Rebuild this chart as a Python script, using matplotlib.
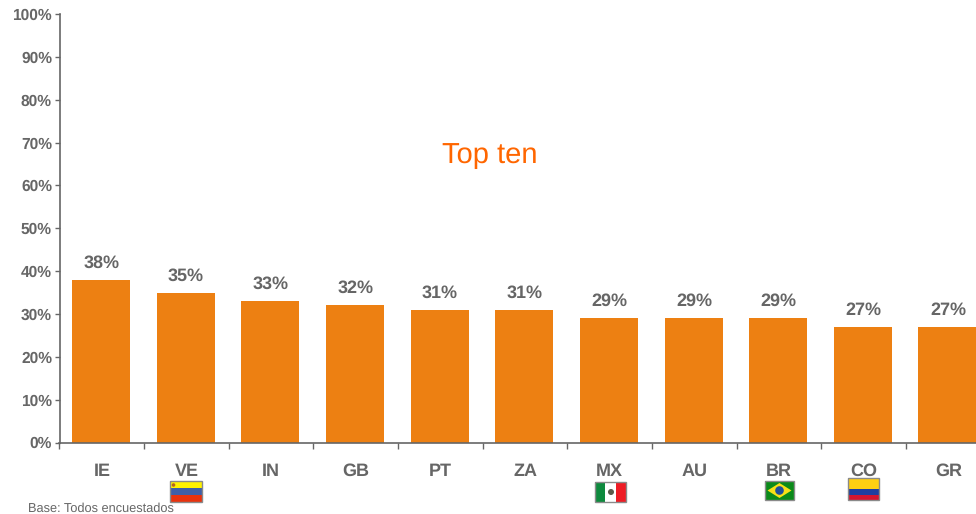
import matplotlib
matplotlib.use('Agg')
import matplotlib.pyplot as plt
from matplotlib.patches import Rectangle, Polygon, Circle

#%% data

countries = ['IE', 'VE', 'IN', 'GB', 'PT', 'ZA', 'MX', 'AU', 'BR', 'CO', 'GR']
values = [38, 35, 33, 32, 31, 31, 29, 29, 29, 27, 27]
yticks = [0, 10, 20, 30, 40, 50, 60, 70, 80, 90, 100]

W, H = 976, 514
grey = '#666666'
orange = '#ED8012'

plt.rcParams['font.family'] = ['Liberation Sans', 'DejaVu Sans']
plt.rcParams['text.hinting'] = 'no_hinting'

#%% chart

fig = plt.figure(figsize=(W / 100, H / 100), dpi=100)
left, right, top, bottom = 59.5, 976, 14, 442.5
ax = fig.add_axes([left / W, 1 - bottom / H, (right - left) / W, (bottom - top) / H])

step = 84.65
ax.bar(range(len(values)), values, width=0.685, color=orange, zorder=2)
ax.set_xlim(-0.49, (right - left) / step - 0.49)
ax.set_ylim(0, 100)

for i, v in enumerate(values):
    ax.text(i + 0.005, v + 1.95, f'{v}%', ha='center', va='bottom', fontsize=13,
            fontweight='bold', color=grey)

ax.set_yticks(yticks)
ax.set_yticklabels([f'{t}%' for t in yticks], fontsize=11.2, fontweight='bold', color=grey)
ax.set_xticks([i - 0.49 for i in range(len(countries))])
ax.set_xticklabels([])
ax.tick_params(axis='y', length=3.6, width=1, color=grey, pad=1.8)
ax.tick_params(axis='x', length=4, width=1, color=grey)
for s in ['top', 'right']:
    ax.spines[s].set_visible(False)
for s in ['left', 'bottom']:
    ax.spines[s].set_color(grey)
    ax.spines[s].set_linewidth(1.2)

for i, c in enumerate(countries):
    ax.text(i + 0.01, -7.8, c, ha='center', va='baseline', fontsize=13, fontweight='bold',
            color=grey, clip_on=False)

fig.text(490 / W, 1 - 155 / H, 'Top ten', ha='center', va='center', fontsize=21, color='#FF6600')
fig.text(28 / W, 1 - 509 / H, 'Base: Todos encuestados', ha='left', va='center', fontsize=9.2, color=grey)


#%% flags, drawn on a pixel overlay

ov = fig.add_axes([0, 0, 1, 1], zorder=5)
ov.set_xlim(0, W)
ov.set_ylim(H, 0)
ov.axis('off')


def stripes(x, y, w, h, cols, fracs, vertical=False):
    pos = 0
    for col, f in zip(cols, fracs):
        if vertical:
            ov.add_patch(Rectangle((x + pos * w, y), f * w, h, color=col, lw=0))
        else:
            ov.add_patch(Rectangle((x, y + pos * h), w, f * h, color=col, lw=0))
        pos += f
    ov.add_patch(Rectangle((x, y), w, h, fill=False, ec='#8A8A8A', lw=1))


# VE
stripes(170, 481, 32, 21, ['#FFF200', '#3F5FA8', '#E8320E'], [1 / 3, 1 / 3, 1 / 3])
ov.add_patch(Circle((173.5, 485), 1.8, color='#B5651D', lw=0))
# MX
stripes(595, 482, 31, 19.5, ['#0E8A3E', '#FFFFFF', '#EE1C25'], [1 / 3, 1 / 3, 1 / 3], vertical=True)
ov.add_patch(Circle((611, 492), 3, color='#5A5A4A', lw=0))
# BR
stripes(765, 481, 29, 19, ['#0B8A1A'], [1])
ov.add_patch(Polygon([(767.5, 490.5), (779.5, 483), (791.5, 490.5), (779.5, 498)], color='#F7E017', lw=0))
ov.add_patch(Circle((779.5, 490.5), 4.3, color='#1F4E9A', lw=0))
# CO
stripes(848, 478, 31, 22, ['#FFD012', '#1F3FA0', '#D3152F'], [0.5, 0.25, 0.25])

fig.savefig('out.png', dpi=100)
